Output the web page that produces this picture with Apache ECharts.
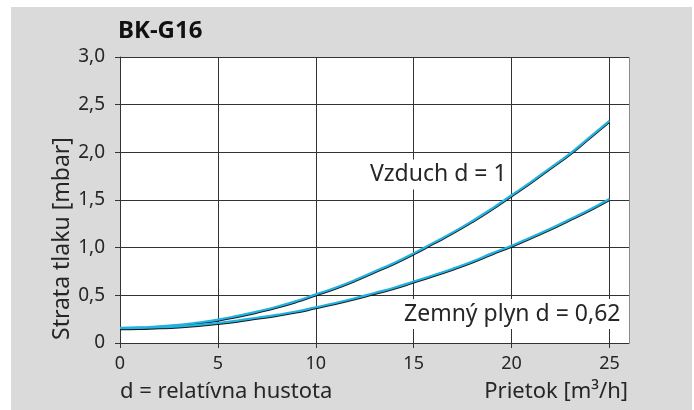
<!DOCTYPE html>
<html>
<head>
<meta charset="utf-8">
<script src="https://cdn.jsdelivr.net/npm/echarts@6/dist/echarts.min.js"></script>
<style>
html,body{margin:0;padding:0;background:#fff;}
#c{position:absolute;left:11px;top:7px;width:683px;height:403px;}
#bg{position:absolute;left:11px;top:7px;width:681px;height:403px;background:#dadada;}
</style>
</head>
<body>
<div id="bg"></div>
<div id="c"></div>
<script>
// Flow [m3/h]
var flow = [0,1,2,3,4,5,6,7,8,9,10,11,12,13,14,15,16,17,18,19,20,21,22,23,24,25];
// Pressure loss [mbar], air d = 1
var airLoss = [0.16,0.163,0.175,0.19,0.215,0.245,0.285,0.33,0.38,0.44,0.51,0.58,0.66,0.75,0.84,0.94,1.05,1.16,1.28,1.41,1.55,1.69,1.84,1.99,2.16,2.33];
// Pressure loss [mbar], natural gas d = 0,62
var gasLoss = [0.155,0.158,0.165,0.175,0.19,0.21,0.235,0.265,0.295,0.33,0.375,0.42,0.47,0.525,0.58,0.645,0.71,0.78,0.855,0.94,1.02,1.11,1.2,1.3,1.4,1.51];
var xTicks = [0,5,10,15,20,25];
var yTickLabels = {"0":"0","0.5":"0,5","1":"1,0","1.5":"1,5","2":"2,0","2.5":"2,5","3":"3,0"};
var title = "BK-G16";
var yName = "Strata tlaku [mbar]";
var xNameLeft = "d = relatívna hustota";
var xNameRight = "Prietok [m³/h]";
var airLabel = "Vzduch d = 1";
var gasLabel = "Zemný plyn d = 0,62";

function pairs(xs, ys){ return xs.map(function(x,i){ return [x, ys[i]]; }); }

var FONT = "'Noto Sans', sans-serif";
var TXT = '#262626';
var OX = 11, OY = 7; // container offset

var chart = echarts.init(document.getElementById('c'), null, {renderer:'canvas'});
var lineStyle = {color:'#22b2e2', width:2.2, shadowColor:'rgba(0,0,0,0.9)', shadowBlur:0, shadowOffsetY:1};
chart.setOption({
  animation:false,
  backgroundColor:'transparent',
  grid:{left:120-OX, top:57-OY, right:694-629, bottom:410-343, show:true, backgroundColor:'#fff', borderWidth:0},
  xAxis:{type:'value', min:0, max:26, interval:5,
    axisLine:{show:true, lineStyle:{color:'#333', width:1}},
    axisTick:{show:true, length:5, lineStyle:{color:'#333'}},
    axisLabel:{margin:12, fontSize:18, fontFamily:FONT, color:TXT, showMaxLabel:false,
      formatter:function(v){ return xTicks.indexOf(v) >= 0 ? String(v) : ''; }},
    splitLine:{show:true, lineStyle:{color:['#333','#333','#333','#333','#333','#333','#8a8a8a'], width:1}}
  },
  yAxis:{type:'value', min:0, max:3, interval:0.5,
    axisLine:{show:true, lineStyle:{color:'#333', width:1}},
    axisTick:{show:true, length:5, lineStyle:{color:'#333'}},
    axisLabel:{margin:15, fontSize:19, fontFamily:FONT, color:TXT,
      formatter:function(v){ return yTickLabels[String(v)] || ''; }},
    splitLine:{show:true, lineStyle:{color:'#333', width:1}}
  },
  series:[
    {type:'line', data:pairs(flow, airLoss), smooth:true, showSymbol:false, lineStyle:lineStyle, z:3},
    {type:'line', data:pairs(flow, gasLoss), smooth:true, showSymbol:false, lineStyle:lineStyle, z:3}
  ],
  graphic:[
    {type:'text', left:118-OX, top:19-OY, style:{text:title, font:"bold 24px 'Noto Sans', sans-serif", fill:'#111'}},
    {type:'text', x:62-OX, y:340-OY, rotation:Math.PI/2, style:{text:yName, font:"23px 'Noto Sans', sans-serif", fill:TXT, textAlign:'left', textVerticalAlign:'middle'}},
    {type:'text', x:120-OX, y:392-OY, style:{text:xNameLeft, font:"22px 'Noto Sans', sans-serif", fill:TXT, textAlign:'left', textVerticalAlign:'middle'}},
    {type:'text', x:628-OX, y:392-OY, style:{text:xNameRight, font:"22px 'Noto Sans', sans-serif", fill:TXT, textAlign:'right', textVerticalAlign:'middle'}},
    {type:'text', x:367-OX, y:174.5-OY, z:10, style:{text:airLabel, font:"23px 'Noto Sans', sans-serif", fill:TXT, textAlign:'left', textVerticalAlign:'middle', backgroundColor:'#fff', padding:[4,4,3,3]}},
    {type:'text', x:401-OX, y:314-OY, z:10, style:{text:gasLabel, font:"23px 'Noto Sans', sans-serif", fill:TXT, textAlign:'left', textVerticalAlign:'middle', backgroundColor:'#fff', padding:[4,4,3,3]}}
  ]
});
</script>
</body>
</html>
